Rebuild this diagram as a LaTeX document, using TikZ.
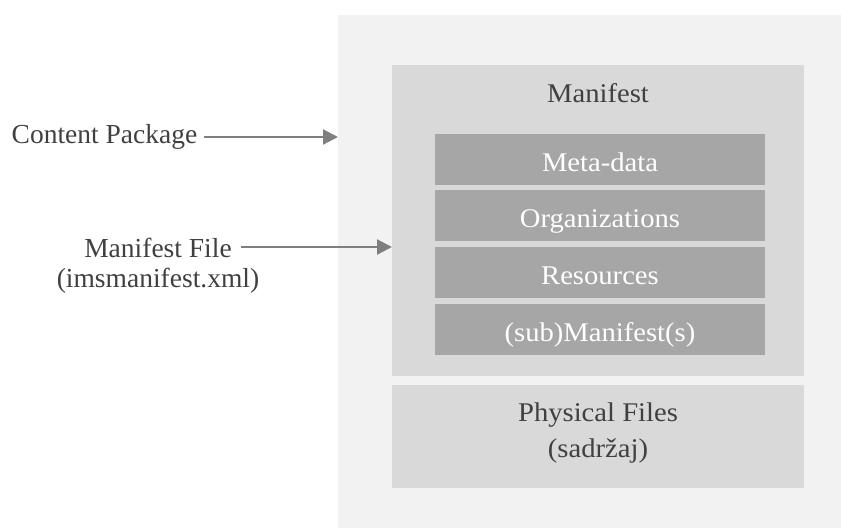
\documentclass[tikz,border=0pt]{standalone}
\usepackage{fontspec}
\setmainfont{Liberation Serif}
\newfontfamily\boxfont{Liberation Serif}[FakeStretch=1.06]
\usetikzlibrary{arrows.meta}
\definecolor{outerfill}{HTML}{F2F2F2}
\definecolor{midfill}{HTML}{D9D9D9}
\definecolor{innerfill}{HTML}{A6A6A6}
\definecolor{txt}{HTML}{404040}
\definecolor{arr}{HTML}{7F7F7F}
\begin{document}
\begin{tikzpicture}[x=1pt,y=-1pt,
  box/.style={anchor=north west, inner sep=0pt, outer sep=0pt, draw=none},
  lbl/.style={anchor=base, inner sep=0pt, text=txt, font=\fontsize{27.5}{30}\selectfont},
  btxt/.style={anchor=base, inner sep=0pt, text=txt, font=\boxfont\fontsize{27}{36}\selectfont},
  wtxt/.style={btxt, text=white},
  inbox/.style={box, fill=innerfill, minimum width=330pt, minimum height=51pt},
  arrowline/.style={draw=arr, line width=2.2pt, -{Triangle[length=15pt,width=15pt]}}]
\useasboundingbox (0,0) rectangle (841,528);
% containers
\node[box, fill=outerfill, minimum width=503pt, minimum height=513pt] (pkg) at (338,15) {};
\node[box, fill=midfill, minimum width=412pt, minimum height=311pt] (man) at (392,65) {};
\node[btxt] (mant) at (598,102) {Manifest};
% inner boxes
\node[inbox] (meta) at (435,134) {};
\node[wtxt] (metat) at (600,171) {Meta-data};
\node[inbox] (org) at (435,190) {};
\node[wtxt] (orgt) at (600,227) {Organizations};
\node[inbox] (res) at (435,247) {};
\node[wtxt] (rest) at (600,284) {Resources};
\node[inbox] (sub) at (435,304) {};
\node[wtxt] (subt) at (600,341) {(sub)Manifest(s)};
% physical files
\node[box, fill=midfill, minimum width=412pt, minimum height=103pt] (phys) at (392,385) {};
\node[btxt] (physa) at (598,421) {Physical Files};
\node[btxt] (physb) at (598,457) {(sadržaj)};
% left labels
\node[lbl] (cp) at (104.5,143) {Content Package};
\node[lbl] (mf) at (158,257) {Manifest File};
\node[lbl] (mfx) at (158,287) {(imsmanifest.xml)};
% arrows
\coordinate (cpa) at ([xshift=7pt,yshift=6pt]cp.base east);
\coordinate (cpb) at (cpa -| pkg.west);
\draw[arrowline] (cpa) -- (cpb);
\coordinate (mfa) at ([xshift=9pt,yshift=10pt]mf.base east);
\coordinate (mfb) at (mfa -| man.west);
\draw[arrowline] (mfa) -- (mfb);
\end{tikzpicture}
\end{document}
